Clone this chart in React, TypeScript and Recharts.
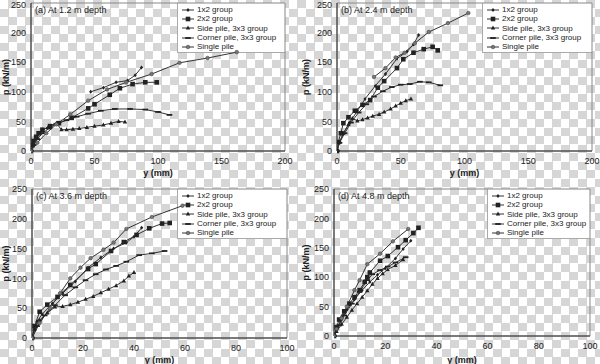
import { LineChart, Line, XAxis, YAxis, ReferenceArea, Legend } from 'recharts';

// series order is the same in every panel
const seriesNames = ['1x2 group', '2x2 group', 'Side pile, 3x3 group', 'Corner pile, 3x3 group', 'Single pile'];
const markerKinds = ['diamond', 'square', 'triangle', 'dash', 'circle'];
const pTicks = [0, 50, 100, 150, 200, 250];

// [y (mm), p (kN/m)]
const a_1x2 = [[47, 100], [57, 107], [67, 116], [76, 119], [82, 128], [87, 141]];
const a_2x2 = [[0, 0], [1, 10], [2, 17], [4, 24], [6, 30], [9, 36], [15, 42], [22, 47], [32, 56], [45, 72], [50, 79], [62, 95], [70, 106], [80, 113], [90, 116], [99, 116]];
const a_side = [[0, 0], [2, 12], [5, 24], [9, 34], [14, 42], [20, 47], [24, 36], [28, 36], [33, 37], [38, 38], [44, 40], [50, 42], [57, 44], [63, 47], [69, 50], [74, 49]];
const a_corner = [[0, 0], [2, 10], [5, 20], [9, 30], [14, 38], [20, 46], [28, 52], [36, 58], [45, 63], [55, 68], [66, 71], [78, 71], [90, 70], [100, 66], [109, 61]];
const a_single = [[0, 0], [5, 14], [12, 30], [20, 45], [31, 62], [45, 85], [60, 104], [75, 116], [95, 130], [117, 149], [139, 157], [162, 167]];

const b_1x2 = [[0, 0], [2, 15], [5, 30], [10, 48], [16, 68], [22, 88], [30, 110], [38, 130], [47, 156], [55, 168], [60, 180], [64, 196]];
const b_2x2 = [[0, 0], [1, 15], [3, 30], [5, 47], [9, 57], [14, 68], [20, 78], [26, 86], [32, 107], [37, 118], [47, 140], [52, 155], [60, 166], [68, 172], [75, 176], [79, 170]];
const b_side = [[0, 0], [2, 15], [5, 30], [9, 45], [12, 55], [16, 51], [20, 53], [24, 56], [28, 59], [33, 62], [37, 66], [42, 71], [46, 76], [50, 81], [54, 85], [58, 88]];
const b_corner = [[0, 0], [2, 14], [6, 30], [11, 48], [17, 65], [23, 79], [29, 92], [36, 101], [43, 108], [50, 112], [57, 113], [65, 117], [72, 116], [81, 111]];
const b_single = [[29, 125], [38, 140], [46, 158], [53, 166], [61, 182], [72, 201], [87, 216], [103, 233]];

const c_1x2 = [[0, 0], [1, 15], [2, 28], [4, 40], [8, 58], [12, 75], [17, 95], [22, 118], [27, 135], [32, 150], [37, 160], [40, 170], [43, 185]];
const c_2x2 = [[0, 0], [1, 20], [3, 44], [6, 56], [10, 69], [15, 89], [22, 116], [25, 124], [31, 146], [36, 161], [41, 173], [46, 184], [51, 192], [54, 193]];
const c_side = [[0, 0], [1, 15], [3, 30], [6, 42], [9, 52], [12, 53], [15, 56], [18, 60], [21, 65], [24, 70], [27, 76], [30, 82], [33, 88], [36, 96], [38, 104], [40, 110]];
const c_corner = [[0, 0], [2, 20], [5, 38], [9, 55], [13, 72], [17, 85], [21, 97], [25, 107], [29, 115], [33, 121], [37, 128], [42, 139], [47, 142], [52, 146]];
const c_single = [[0, 0], [3, 25], [7, 50], [11, 75], [15, 100], [19, 118], [23, 134], [28, 148], [32, 160], [37, 183], [47, 203], [59, 222]];

const d_1x2 = [[0, 0], [1, 10], [3, 28], [5, 45], [8, 62], [11, 78], [14, 92], [17, 104], [20, 115], [24, 132], [27, 148], [30, 162]];
const d_2x2 = [[0, 0], [1, 15], [2, 28], [4, 42], [6, 55], [8, 66], [10, 78], [12, 92], [13, 100], [14, 108], [18, 128], [21, 136], [25, 151], [28, 163], [31, 175], [33, 184]];
const d_side = [[0, 0], [1, 8], [3, 20], [5, 32], [7, 44], [9, 55], [11, 66], [13, 77], [15, 88], [17, 98], [19, 106], [21, 113], [24, 120], [27, 130]];
const d_corner = [[0, 0], [2, 18], [4, 35], [7, 55], [10, 75], [13, 95], [15, 105], [18, 112], [21, 118], [24, 125], [28, 134]];
const d_single = [[0, 0], [1, 12], [3, 30], [5, 50], [8, 78], [10, 95], [13, 122], [18, 140], [23, 161], [29, 182]];

const toPoints = (arr: number[][]) => arr.map(([y, p]) => ({ y, p }));

const INK = '#333';
const LEGEND_ROW = 9.3;
const LEGEND_H = 50;

function Marker({ kind, cx, cy }: { kind: string; cx: number; cy: number }) {
  if (cx == null || cy == null) return null;
  switch (kind) {
    case 'square':
      return <rect x={cx - 2.3} y={cy - 2.3} width={4.6} height={4.6} fill="#222" />;
    case 'triangle':
      return <path d={`M${cx},${cy - 2.4}L${cx + 2.2},${cy + 1.6}L${cx - 2.2},${cy + 1.6}Z`} fill="#222" />;
    case 'dash':
      return <rect x={cx - 2.8} y={cy - 0.9} width={5.6} height={1.8} fill="#222" />;
    case 'circle':
      return <circle cx={cx} cy={cy} r={1.8} fill="#777" stroke="#444" strokeWidth={0.6} />;
    default:
      return <path d={`M${cx},${cy - 2}L${cx + 1.6},${cy}L${cx},${cy + 2}L${cx - 1.6},${cy}Z`} fill="#222" />;
  }
}

function LegendBox({ width, height }: { width: number; height: number }) {
  return (
    <div style={{ width, height, background: '#fff', borderLeft: '1px solid #aaa', borderBottom: '1px solid #aaa', boxSizing: 'border-box', padding: '2px 0 0 4px' }}>
      {seriesNames.map((name, i) => (
        <div key={name} style={{ display: 'flex', alignItems: 'center', height: LEGEND_ROW, lineHeight: `${LEGEND_ROW}px`, fontSize: 8, color: '#222', whiteSpace: 'nowrap' }}>
          <svg width={12} height={8} style={{ marginRight: 3, flexShrink: 0 }}>
            <line x1={0} y1={4} x2={12} y2={4} stroke={INK} strokeWidth={1} />
            <Marker kind={markerKinds[i]} cx={6} cy={4} />
          </svg>
          <span>{name}</span>
        </div>
      ))}
    </div>
  );
}

interface PanelProps {
  title: string;
  xMax: number;
  xTicks: number[];
  series: number[][][];
  yAxisWidth: number;
  top: number;
  right: number;
  xAxisHeight: number;
  xLabelOffset: number;
  legendLeft: number;
  legendWidth: number;
}

function Panel(props: PanelProps) {
  const { title, xMax, xTicks, series, yAxisWidth, top, right, xAxisHeight, xLabelOffset, legendLeft, legendWidth } = props;
  const textStyle = { fontSize: 9, fill: '#222' };
  return (
    <LineChart width={300} height={182} margin={{ top, right, bottom: 0, left: 0 }}>
      <XAxis
        type="number"
        dataKey="y"
        domain={[0, xMax]}
        ticks={xTicks}
        allowDataOverflow
        height={xAxisHeight}
        tickSize={0}
        tickMargin={7}
        tick={textStyle}
        axisLine={{ stroke: INK }}
        label={{ value: 'y (mm)', position: 'insideBottom', offset: xLabelOffset, style: { ...textStyle, fontWeight: 'bold' } }}
      />
      <YAxis
        type="number"
        domain={[0, 250]}
        ticks={pTicks}
        width={yAxisWidth}
        tickSize={0}
        tickMargin={5}
        tick={textStyle}
        axisLine={{ stroke: INK }}
        label={{ value: 'p (kN/m)', angle: -90, position: 'insideLeft', offset: 6, style: { ...textStyle, fontWeight: 'bold', textAnchor: 'middle' } }}
      />
      <ReferenceArea
        x1={0}
        x2={xMax}
        y1={0}
        y2={250}
        fill="none"
        stroke="#888"
        strokeWidth={1}
        label={{ value: title, position: 'insideTopLeft', offset: 4, style: textStyle }}
      />
      <Legend
        layout="horizontal"
        align="center"
        verticalAlign="middle"
        wrapperStyle={{ position: 'absolute', left: legendLeft, top, width: legendWidth, height: LEGEND_H, zIndex: -1 }}
        content={() => <LegendBox width={legendWidth} height={LEGEND_H} />}
      />
      {series.map((arr, i) => (
        <Line
          key={seriesNames[i]}
          name={seriesNames[i]}
          data={toPoints(arr)}
          dataKey="p"
          stroke={INK}
          strokeWidth={1}
          isAnimationActive={false}
          dot={(d: any) => <Marker key={`${i}-${d.index}`} kind={markerKinds[i]} cx={d.cx} cy={d.cy} />}
          activeDot={false}
        />
      ))}
    </LineChart>
  );
}

const panelBox = (left: number, top: number) => ({ position: 'absolute' as const, left, top, width: 300, height: 182, zIndex: 0 });

export default function App() {
  return (
    <div
      style={{
        position: 'absolute',
        left: 0,
        top: 0,
        width: 600,
        height: 364,
        overflow: 'hidden',
        fontFamily: '"Liberation Sans", Arial, sans-serif',
        background: 'repeating-conic-gradient(#d6d6d6 0% 25%, #ffffff 0% 50%) 0 0 / 17px 17px',
      }}
    >
      <div style={panelBox(0, 0)}>
        <Panel title="(a) At 1.2 m depth" xMax={200} xTicks={[0, 50, 100, 150, 200]}
          series={[a_1x2, a_2x2, a_side, a_corner, a_single]}
          yAxisWidth={31} top={3} right={15} xAxisHeight={31} xLabelOffset={6} legendLeft={177} legendWidth={108} />
      </div>
      <div style={panelBox(300, 0)}>
        <Panel title="(b) At 2.4 m depth" xMax={200} xTicks={[0, 50, 100, 150, 200]}
          series={[b_1x2, b_2x2, b_side, b_corner, b_single]}
          yAxisWidth={37} top={3} right={8} xAxisHeight={31} xLabelOffset={6} legendLeft={182} legendWidth={110} />
      </div>
      <div style={panelBox(0, 182)}>
        <Panel title="(c) At 3.6 m depth" xMax={100} xTicks={[0, 20, 40, 60, 80, 100]}
          series={[c_1x2, c_2x2, c_side, c_corner, c_single]}
          yAxisWidth={32} top={7} right={13} xAxisHeight={26} xLabelOffset={1} legendLeft={177} legendWidth={110} />
      </div>
      <div style={panelBox(300, 182)}>
        <Panel title="(d) At 4.8 m depth" xMax={100} xTicks={[0, 20, 40, 60, 80, 100]}
          series={[d_1x2, d_2x2, d_side, d_corner, d_single]}
          yAxisWidth={34} top={7} right={10} xAxisHeight={28} xLabelOffset={1} legendLeft={187} legendWidth={103} />
      </div>
    </div>
  );
}
